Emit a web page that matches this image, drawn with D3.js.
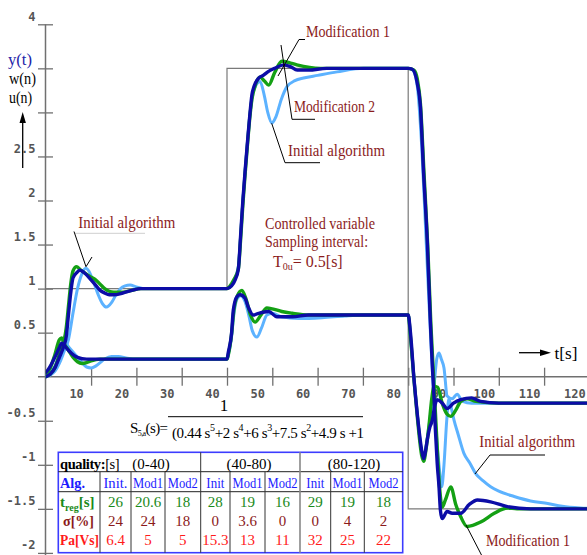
<!DOCTYPE html>
<html><head><meta charset="utf-8">
<script src="https://cdn.jsdelivr.net/npm/d3@7"></script>
<style>
body{margin:0;background:#fff}
svg{display:block}
text{font-family:"Liberation Serif","Times New Roman",serif}
text.tk{font-family:"DejaVu Sans Mono",monospace;font-weight:bold;font-size:12px;fill:#555}
</style>
</head><body>
<svg id="c" width="587" height="555"></svg>
<script>
// ---------- data ----------
const xTicks = [10,20,30,40,50,60,70,80,90,100,110,120];
const yTicks = [4,3.5,3,2.5,2,1.5,1,0.5,-0.5,-1,-1.5,-2];
const yTickLabels = [4,2.5,2,1.5,1,0.5,-0.5,-1,-1.5,-2];

const wSetpoint = [[0,1],[40,1],[40,3.5],[80,3.5],[80,-1.5],[122,-1.5]];

const yInitial = [[0,0],[1,0.02],[2,0.06],[3,0.15],[4,0.28],[5,0.42],[6,0.72],[7,1.0],[8,1.17],[8.8,1.23],[9.5,1.2],[10.5,1.08],[11.5,0.94],[12.5,0.83],[13.4,0.79],[14.5,0.84],[15.5,0.93],[16.5,1.0],[17.5,1.03],[18.6,1.04],[20,1.02],[22,1.0],[40,1.0],
 [40.5,1.01],[41.5,1.08],[42.5,1.25],[43,1.6],[43.5,2.0],[44,2.34],[44.5,2.65],[45,2.95],[45.5,3.15],[46.3,3.3],[47.3,3.35],[48.2,3.2],[49,3.0],[49.9,2.88],[50.8,2.95],[52,3.15],[53.2,3.29],[55,3.36],[56.9,3.39],[60,3.42],[64.3,3.46],[70.2,3.5],[80,3.5],
 [81,3.48],[82,3.3],[83,2.6],[84,1.5],[85,0.4],[86,-0.5],[86.8,-1.0],[87.4,-1.25],[87.9,-1.0],[88.5,-0.5],[89,-0.25],[89.5,-0.35],[90.1,-0.49],[91,-0.65],[92.3,-0.87],[93.6,-0.98],[94.9,-1.1],[96.5,-1.18],[98.2,-1.25],[100,-1.3],[103.4,-1.36],[107,-1.41],[110.8,-1.44],[114,-1.47],[118,-1.49],[122,-1.5]];

const yMod1 = [[0,0],[1,0.03],[2,0.1],[3,0.25],[4,0.4],[4.5,0.55],[5,0.8],[5.5,1.05],[6,1.2],[6.8,1.25],[7.5,1.22],[8.5,1.18],[10,1.13],[11,1.1],[12,1.05],[13,1.0],[14,0.97],[15,0.96],[17,0.96],[19,0.98],[21,1.0],[40,1.0],
 [40.5,1.02],[41.5,1.1],[42.5,1.22],[43,1.55],[43.5,1.95],[44,2.3],[44.5,2.62],[45,2.92],[45.5,3.15],[46.2,3.3],[47.3,3.4],[48.2,3.36],[49.2,3.31],[50.5,3.45],[52.1,3.58],[54,3.56],[55.4,3.54],[60.6,3.5],[80,3.5],
 [81.3,3.48],[82,3.38],[82.7,3.1],[83.5,2.3],[84.3,1.5],[85,0.6],[85.5,0.1],[86,-0.4],[86.5,-0.9],[87,-1.3],[87.5,-1.48],[88.2,-1.4],[89.4,-1.25],[90.5,-1.45],[91.6,-1.59],[93,-1.7],[96,-1.65],[99,-1.55],[101.9,-1.49],[104,-1.5],[122,-1.5]];

const yMod2 = [[0,0],[1,0.03],[2,0.1],[3,0.22],[4,0.35],[4.5,0.45],[5,0.7],[5.5,0.95],[6,1.12],[7,1.19],[7.5,1.21],[8.5,1.18],[10,1.1],[11,1.04],[12,0.98],[13,0.95],[14,0.93],[15,0.93],[17,0.95],[19,0.98],[21,1.0],[40,1.0],
 [41,1.03],[41.8,1.1],[42.5,1.22],[43,1.6],[43.5,2.0],[44,2.34],[44.5,2.65],[45,2.95],[45.5,3.2],[46,3.3],[47,3.39],[48,3.42],[49,3.46],[50.5,3.5],[52.5,3.54],[54,3.52],[55.5,3.48],[58,3.48],[62,3.5],[80,3.5],
 [80.9,3.49],[82,3.33],[82.7,3.06],[83.4,2.31],[84.2,1.55],[84.9,0.61],[85.3,0.15],[85.7,-0.23],[86,-0.6],[86.4,-0.98],[86.8,-1.25],[87.1,-1.51],[87.5,-1.61],[88.6,-1.53],[89.7,-1.55],[91.6,-1.55],[93.5,-1.45],[95.3,-1.4],[98.2,-1.42],[101.9,-1.475],[107,-1.5],[122,-1.5]];

const uInitial = [[0,0.02],[1,0.05],[2,0.12],[3,0.25],[4,0.36],[4.5,0.37],[5,0.34],[6,0.28],[7,0.22],[8,0.16],[9,0.11],[10,0.1],[11,0.12],[12,0.16],[13,0.2],[14.5,0.23],[16,0.23],[18,0.21],[20,0.2],[40,0.2],
 [40.3,0.25],[41,0.45],[41.5,0.7],[42.2,0.88],[43,0.92],[44,0.85],[44.8,0.7],[45.6,0.52],[46.6,0.45],[47.6,0.55],[48.8,0.7],[50,0.72],[52,0.68],[55.8,0.66],[61,0.67],[66,0.69],[70,0.7],[80,0.7],
 [80.5,0.45],[81.3,-0.04],[82,-0.42],[83,-0.85],[83.5,-0.9],[84.2,-0.7],[85,-0.4],[85.7,-0.1],[86.3,0.2],[86.8,0.27],[87.3,0.2],[87.9,0.1],[88.6,-0.22],[89.7,-0.25],[90.8,-0.2],[92,-0.28],[94,-0.3],[122,-0.3]];

const uMod1 = [[0,0.04],[1,0.1],[2,0.25],[3,0.42],[3.5,0.44],[4,0.38],[5,0.3],[6,0.22],[7,0.17],[8,0.15],[9,0.16],[10,0.18],[12,0.2],[40,0.2],
 [40.3,0.25],[41,0.48],[41.5,0.75],[42.3,0.92],[43.3,0.98],[44.2,0.88],[45.2,0.7],[46.2,0.62],[47.5,0.7],[48.8,0.78],[50,0.77],[52.1,0.74],[54.4,0.72],[58,0.7],[80,0.7],
 [80.5,0.45],[81.3,-0.05],[82,-0.45],[83,-0.9],[83.4,-0.96],[84,-0.8],[84.6,-0.55],[85.2,-0.25],[85.7,-0.11],[86.5,-0.12],[87.5,-0.3],[88.5,-0.42],[89.4,-0.45],[90.5,-0.38],[91.6,-0.28],[93,-0.25],[95,-0.28],[100,-0.3],[122,-0.3]];

const uMod2 = [[0,0.05],[0.5,0.08],[1,0.12],[2,0.22],[3,0.33],[3.5,0.38],[4,0.36],[5,0.3],[6,0.25],[7,0.22],[9,0.2],[40,0.2],
 [40.3,0.28],[41,0.49],[41.4,0.76],[42.2,0.91],[42.9,0.93],[44,0.89],[44.7,0.79],[45.8,0.7],[47,0.72],[49.2,0.74],[51,0.68],[54.4,0.68],[58,0.7],[80,0.7],
 [80.5,0.5],[81.3,-0.04],[82,-0.42],[83.1,-0.87],[83.4,-0.93],[83.8,-0.85],[84.2,-0.72],[84.8,-0.57],[85.3,-0.5],[85.8,-0.35],[86.4,-0.26],[87.5,-0.3],[88.6,-0.36],[90,-0.3],[91.6,-0.26],[94,-0.24],[96,-0.28],[100,-0.3],[122,-0.3]];

const tableGroups = ["(0-40)","(40-80)","(80-120)"];
const algNames = ["Init.","Mod1","Mod2","Init","Mod1","Mod2","Init","Mod1","Mod2"];
const tReg = ["26","20.6","18","28","19","16","29","19","18"];
const sigma = ["24","24","18","0","3.6","0","0","4","2"];
const pa = ["6.4","5","5","15.3","13","11","32","25","22"];

// ---------- chart ----------
const svg = d3.select("#c");
const x = d3.scaleLinear().domain([0,120]).range([45.8, 45.8 + 4.53*120]);
const y = d3.scaleLinear().domain([-2,4]).range([552.9, 24.3]);
const AX = "#707070", DARKRED = "#8b1c1c";

// axes
svg.append("line").attr("x1",x(0)-0.3).attr("x2",x(0)-0.3).attr("y1",y(4)).attr("y2",555)
  .attr("stroke",AX).attr("stroke-width",1.5);
svg.append("line").attr("x1",38).attr("x2",587).attr("y1",y(0)).attr("y2",y(0))
  .attr("stroke",AX).attr("stroke-width",1.5);

const gx = svg.append("g").attr("transform",`translate(0,${y(0)})`)
  .call(d3.axisBottom(x).tickValues(xTicks).tickSize(9).tickFormat(d=>String(d)));
gx.select(".domain").remove();
gx.selectAll(".tick line").attr("y1",-9).attr("stroke",AX).attr("stroke-width",1.3);
gx.selectAll(".tick text").attr("class","tk").attr("x",-15).attr("y",21).attr("dy",0);

const gy = svg.append("g").attr("transform",`translate(${x(0)-0.3},0)`)
  .call(d3.axisLeft(y).tickValues(yTicks).tickSize(7.5).tickFormat(d=>yTickLabels.includes(d)?String(d):""));
gy.select(".domain").remove();
gy.selectAll(".tick line").attr("x1",7.5).attr("stroke",AX).attr("stroke-width",1.3);
gy.selectAll(".tick text").attr("class","tk").attr("x",-10).attr("dy",-4);

// setpoint
const lineW = d3.line().x(d=>x(d[0])).y(d=>y(d[1]));
svg.append("path").attr("d",lineW(wSetpoint)).attr("fill","none").attr("stroke","#7a7a7a").attr("stroke-width",1.2);

// curves
const lineC = d3.line().x(d=>x(d[0])).y(d=>y(d[1])).curve(d3.curveMonotoneX);
const series = [
  {d:uInitial,c:"#5cb2ff",w:3},{d:yInitial,c:"#5cb2ff",w:3},
  {d:uMod1,c:"#14a014",w:3.4},{d:yMod1,c:"#14a014",w:3.4},
  {d:uMod2,c:"#0c0ca6",w:3.4},{d:yMod2,c:"#0c0ca6",w:3.4}
];
svg.append("defs").append("clipPath").attr("id","cp").append("rect")
  .attr("x",x(0)).attr("y",0).attr("width",600).attr("height",555);
const gc = svg.append("g").attr("clip-path","url(#cp)");
series.forEach(s=>{
  gc.append("path").attr("d",lineC(s.d)).attr("fill","none").attr("stroke",s.c)
    .attr("stroke-width",s.w).attr("stroke-linejoin","round").attr("stroke-linecap","round");
});

// helpers
function txt(xp, yb, str, opts={}){
  const t = svg.append("text").attr("x",xp).attr("y",yb).text(str)
    .attr("font-size",opts.size||15).attr("fill",opts.color||"#000");
  if(opts.w){t.attr("textLength",opts.w).attr("lengthAdjust","spacingAndGlyphs");}
  if(opts.anchor) t.attr("text-anchor",opts.anchor);
  if(opts.bold) t.attr("font-weight","bold");
  return t;
}
function poly(pts, color="#000", w=1){
  svg.append("path").attr("d",d3.line()(pts)).attr("fill","none").attr("stroke",color).attr("stroke-width",w);
}

// y-label & arrow
txt(8,65,"y(t)",{size:16,color:"#2323a8",w:24});
txt(9,84,"w(n)",{size:16,w:27});
txt(9,103,"u(n)",{size:16,w:23});
svg.append("line").attr("x1",22.7).attr("x2",22.7).attr("y1",168).attr("y2",121).attr("stroke","#000").attr("stroke-width",1.3);
svg.append("path").attr("d","M22.7,112 L19.5,123 L25.9,123 Z").attr("fill","#000");

// t[s] arrow
svg.append("line").attr("x1",519).attr("x2",542).attr("y1",352.7).attr("y2",352.7).attr("stroke","#000").attr("stroke-width",1.3);
svg.append("path").attr("d","M551,352.7 L540,349.5 L540,355.9 Z").attr("fill","#000");
txt(554.5,359,"t[s]",{size:17,w:23});

// annotations
txt(306,37,"Modification 1",{size:16,color:DARKRED,w:84});
poly([[305,39.5],[299,39.5],[278,76]]);
txt(294,111.5,"Modification 2",{size:16,color:DARKRED,w:81});
poly([[315,119.3],[292,119.3],[281,45]]);
txt(288,155.5,"Initial algorithm",{size:16,color:DARKRED,w:97});
poly([[320,162.7],[285,162.7],[271.7,123.3]]);

txt(78.3,228,"Initial algorithm",{size:16,color:DARKRED,w:97});
poly([[75,233.3],[145,233.3]],"#cfcfcf",1);
poly([[74,231.5],[86,266.7],[92,257]]);

txt(265,228.5,"Controlled variable",{size:16,color:DARKRED,w:110});
txt(265,247,"Sampling interval:",{size:16,color:DARKRED,w:103});
const tt = svg.append("text").attr("x",273).attr("y",267).attr("font-size",16).attr("fill",DARKRED);
tt.append("tspan").text("T");
tt.append("tspan").attr("font-size",10).attr("dy",3).text("0u");
tt.append("tspan").attr("dy",-3).text("= 0.5[s]");

txt(479.3,447,"Initial algorithm",{size:16,color:DARKRED,w:96});
poly([[545,455],[490,455],[475,474]]);
txt(486,545.5,"Modification 1",{size:16,color:DARKRED,w:84});
poly([[466,525],[482,556]]);

// equation
txt(224,411,"1",{size:17,anchor:"middle"});
svg.append("line").attr("x1",168).attr("x2",363).attr("y1",416.7).attr("y2",416.7).attr("stroke","#000").attr("stroke-width",1);
const se = svg.append("text").attr("x",130).attr("y",433).attr("font-size",15).attr("letter-spacing","-0.6");
se.append("tspan").text("S");
se.append("tspan").attr("font-size",8).attr("dy",3).text("5,a");
se.append("tspan").attr("dy",-3).text("(s)=");
const den = svg.append("text").attr("x",172).attr("y",437.5).attr("font-size",15).attr("letter-spacing","-0.4");
[["(0.44 s",""],["5","sup"],["+2 s",""],["4","sup"],["+6 s",""],["3","sup"],["+7.5 s",""],["2","sup"],["+4.9 s +1",""]]
  .forEach(([s,k])=>{
    const sp = den.append("tspan").text(s);
    if(k==="sup") sp.attr("font-size",10).attr("dy",-7);
    else if(s!=="(0.44 s") sp.attr("dy",7);
  });

// table
const T = {x0:58.3, x1:402.7, y0:452.3, r1:471.7, r2:491.7, y1:552.7};
const colX = [100,131,165,200.7,230,265,300,330.7,364.3,402.7];
const tg = svg.append("g");
tg.append("rect").attr("x",T.x0).attr("y",T.y0).attr("width",T.x1-T.x0).attr("height",T.y1-T.y0)
  .attr("fill","#fff").attr("stroke","#3c3cff").attr("stroke-width",1.6);
[T.r1,T.r2].forEach(yy=>tg.append("line").attr("x1",T.x0).attr("x2",T.x1).attr("y1",yy).attr("y2",yy).attr("stroke","#222").attr("stroke-width",1));
colX.slice(0,-1).forEach((cx,i)=>{
  const full = (i===3||i===6);
  tg.append("line").attr("x1",cx).attr("x2",cx).attr("y1",full?T.y0:T.r1).attr("y2",T.y1)
    .attr("stroke",i===6?"#888":"#333").attr("stroke-width",i===6?1.6:1);
});
const qh = svg.append("text").attr("x",60).attr("y",468.5).attr("font-size",14.5).attr("letter-spacing","-0.4");
qh.append("tspan").attr("font-weight","bold").text("quality:");
qh.append("tspan").text("[s]");
const grpC = [151,249,354];
tableGroups.forEach((g,i)=>txt(grpC[i],468.5,g,{anchor:"middle"}));
txt(60,487.5,"Alg.",{bold:true,color:"#1c1cff",w:25});
algNames.forEach((a,i)=>{
  const c = (colX[i]+colX[i+1])/2;
  txt(c,487.5,a,{anchor:"middle",color:"#1c1cff",w:a.startsWith("Mod")?30:(a==="Init."?24:18)});
});
const tr = svg.append("text").attr("x",60).attr("y",506.5).attr("font-size",15).attr("font-weight","bold").attr("fill","#1a8a1a");
tr.append("tspan").text("t");
tr.append("tspan").attr("font-size",10).attr("dy",4).text("reg");
tr.append("tspan").attr("dy",-4).text("[s]");
txt(63,525.5,"σ[%]",{bold:true,color:"#8b1a1a",w:31});
txt(60,544.5,"Pa[Vs]",{bold:true,color:"#ff1a1a",w:39});
const rows = [[tReg,506.5,"#1a8a1a"],[sigma,525.5,"#8b1a1a"],[pa,544.5,"#ff1a1a"]];
rows.forEach(([vals,yb,col])=>{
  vals.forEach((v,i)=>{
    const c = (colX[i]+colX[i+1])/2;
    txt(c,yb,v,{anchor:"middle",color:col});
  });
});
</script>
</body></html>
